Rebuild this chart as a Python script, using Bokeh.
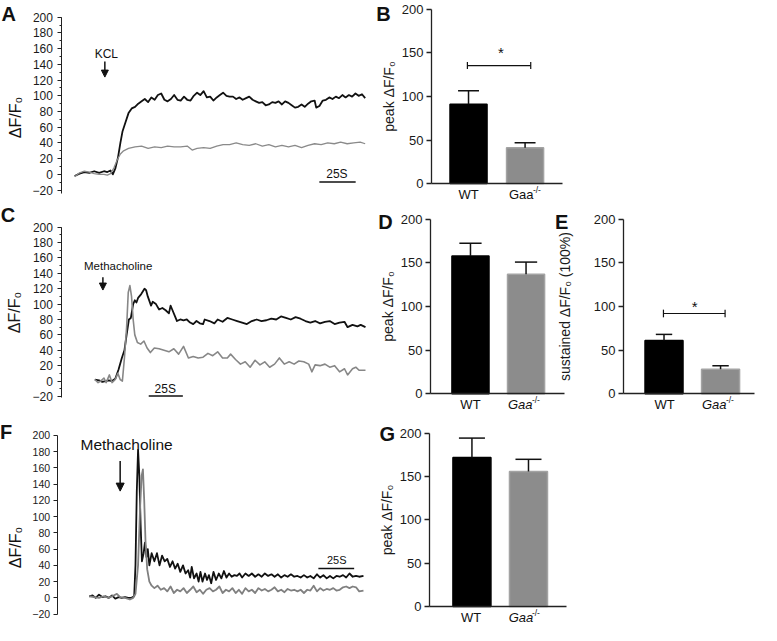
import math
from bokeh.plotting import figure
from bokeh.models import (Range1d, Label, Arrow, NormalHead, LinearAxis,
                          SingleIntervalTicker, FixedTicker)
from bokeh.embed import file_html
from bokeh.resources import INLINE

FONT = "Liberation Sans"
SX, SY = 0.975, 0.968   # reference pixel -> canvas pixel
OX, OY = 1, 4
W, H = 761, 625         # canvas size

# ---------------- data ----------------
# A: KCL response, time (s) and dF/F0
a_t_wt = [0, 3.4, 6.7, 10.1, 13.5, 16.9, 20.2, 22.5, 24.7, 26.3,
          28.1, 29.9, 31.5, 33.0, 34.8, 37.1, 39.3, 41.6, 43.8, 46.1,
          48.3, 50.6, 52.8, 55.1, 57.3, 59.6, 61.8, 64.0, 66.3, 68.5,
          70.8, 73.0, 75.3, 77.5, 79.8, 82.0, 84.3, 86.5, 88.8, 91.0,
          93.3, 95.5, 97.8, 100.0, 102.2, 104.5, 106.7, 109.0, 111.2, 113.5,
          115.7, 118.0, 120.2, 122.5, 124.7, 127.0, 129.2, 131.5, 133.7, 136.0,
          138.2, 140.4, 142.7, 144.9, 147.2, 149.4, 151.7, 153.9, 156.2, 158.4,
          160.7, 162.9, 165.2, 166.3, 168.5, 170.8, 173.0, 175.3, 177.5, 179.8,
          182.0, 184.3, 186.5, 188.8, 191.0, 193.3, 195.5, 197.8, 200.0]
a_wt = [-2, 1, 3, 2, 4, 2, 4, 3, 5, 0,
        8, 22, 40, 55, 65, 78, 84, 86, 90, 93,
        96, 92, 98, 95, 101, 103, 95, 93, 96, 101,
        95, 94, 99, 95, 94, 100, 104, 101, 106, 98,
        99, 94, 98, 101, 104, 100, 99, 99, 96, 98,
        95, 97, 99, 95, 93, 91, 92, 88, 89, 92,
        91, 93, 89, 93, 91, 88, 85, 86, 89, 86,
        90, 93, 94, 85, 87, 94, 95, 98, 96, 99,
        97, 101, 98, 101, 99, 103, 100, 102, 97]
a_t_gaa = [0, 3.4, 6.7, 10.1, 13.5, 16.9, 20.2, 22.5, 24.7,
           27.0, 29.2, 31.5, 33.7,
           37.1, 41.6, 46.1, 50.6, 55.1, 59.6, 64.0, 68.5, 73.0, 77.5,
           80.9, 84.3, 88.8, 93.3, 97.8, 102.2, 106.7, 111.2, 115.7, 120.2,
           124.7, 129.2, 133.7, 138.2, 142.7, 147.2, 151.7, 156.2, 160.7, 165.2,
           169.7, 174.2, 178.7, 183.1, 187.6, 192.1, 196.6, 200.0]
a_gaa = [-3, 2, 4, 3, 1, 0, 0, -1, 1,
         8, 18, 26, 30,
         33, 35, 36, 33, 35, 34, 36, 35, 35, 36,
         31, 33, 34, 33, 36, 38, 38, 40, 38, 37,
         39, 36, 38, 35, 37, 35, 37, 34, 37, 39,
         38, 40, 39, 41, 39, 40, 41, 39]

# C: Methacholine response
c_t_wt = [0, 3.1, 5.5, 7.9, 10.2, 12.6, 15.0, 17.4, 19.8, 21.7,
          23.3, 25.0, 26.4, 28.1, 29.3, 30.5, 31.7, 34.0, 36.4, 37.6,
          38.8, 41.2, 42.4, 44.8, 47.1, 49.5, 51.9, 54.3, 55.5, 56.7,
          59.0, 60.2, 62.6, 65.0, 67.4, 69.8, 72.1, 74.5, 76.9, 79.3,
          80.5, 84.0, 87.6, 90.0, 93.6, 97.1, 100.7, 104.3, 107.9, 111.4,
          115.0, 118.6, 122.1, 125.7, 129.3, 132.9, 136.4, 140.0, 143.6, 147.1,
          150.7, 154.3, 157.9, 161.4, 165.0, 168.6, 172.1, 175.7, 179.3, 182.9,
          185.2, 188.8, 192.4, 194.8, 198.3]
c_wt = [2, 1, -1, 0, 1, 0, 3, 15, 30, 40,
        60, 80, 82, 100, 105, 102, 108, 113, 120, 118,
        110, 98, 103, 100, 93, 95, 92, 88, 98, 93,
        83, 78, 80, 79, 80, 76, 74, 78, 75, 74,
        80, 78, 75, 80, 77, 82, 80, 78, 76, 74,
        78, 80, 78, 79, 81, 80, 84, 82, 80, 83,
        81, 78, 76, 78, 75, 77, 78, 74, 76, 77,
        70, 73, 71, 73, 70]
c_t_gaa = [0, 2.4, 4.3, 6.7, 8.3, 10.7, 12.6, 15.0, 16.9, 18.6,
           20.2, 21.7, 23.3, 24.5, 25.7, 26.9, 28.1, 29.3, 31.2, 33.6,
           36.0, 38.3, 40.7, 43.6, 47.1, 50.7, 54.3, 57.9, 61.4, 65.0,
           68.6, 72.1, 75.7, 79.3, 82.9, 86.4, 90.0, 93.6, 97.1, 99.5,
           103.1, 106.7, 110.2, 113.8, 117.4, 121.0, 124.5, 128.1, 131.7, 135.2,
           138.8, 142.4, 146.0, 149.5, 153.1, 156.7, 159.0, 161.4, 165.0, 168.6,
           172.1, 175.7, 179.3, 182.9, 185.2, 188.8, 191.2, 193.6, 198.3]
c_gaa = [2, -2, 0, 4, -2, 8, -2, 2, 10, 2,
         0, 30, 70, 115, 124, 110, 80, 60, 50, 48,
         52, 43, 37, 43, 42, 40, 38, 42, 35, 45,
         30, 32, 30, 31, 36, 33, 38, 30, 30, 35,
         28, 22, 25, 18, 27, 21, 25, 18, 22, 30,
         22, 25, 22, 26, 25, 22, 12, 21, 20, 22,
         18, 20, 12, 16, 8, 16, 18, 14, 14]

# F: Methacholine response (second recording)
f_t_wt = [0, 2.3, 4.5, 6.8, 9.1, 11.4, 13.6, 15.9, 18.2, 20.5,
          22.7, 25.0, 27.3, 29.5, 31.4, 32.3, 33.2, 34.1, 35.0, 35.9,
          36.8, 38.0, 38.9, 40.0, 40.9, 42.0, 43.6, 45.5, 47.3, 49.1,
          50.9, 52.7, 54.5, 56.4, 58.2, 60.0, 61.8, 63.6, 65.5, 67.3,
          69.1, 70.5, 71.6, 73.2, 75.0, 76.4, 77.7, 79.1, 80.9, 82.3,
          83.6, 85.2, 86.8, 88.6, 90.5, 92.3, 94.1, 95.9, 97.7, 99.5,
          101.4, 103.2, 105.0, 106.8, 109.1, 111.4, 113.6, 115.9, 118.2, 120.5,
          122.7, 125.0, 127.3, 129.5, 131.8, 134.1, 136.4, 138.6, 140.9, 143.2,
          145.5, 147.7, 150.0, 152.3, 154.5, 156.8, 159.1, 161.4, 163.6, 165.9,
          168.2, 170.5, 172.7, 175.0, 177.3, 179.5, 181.8, 184.1, 186.4, 188.6,
          191.6]
f_wt = [2, 3, 0, 4, 1, 2, 0, 3, -1, 1,
        0, 1, 0, 0, 2, 40, 130, 182, 150, 90,
        45, 55, 68, 50, 60, 40, 55, 45, 55, 40,
        52, 45, 48, 38, 45, 36, 42, 32, 40, 30,
        34, 25, 38, 24, 30, 20, 32, 20, 30, 22,
        28, 18, 32, 22, 30, 24, 33, 25, 30, 26,
        28, 27, 30, 25, 30, 27, 30, 26, 29, 26,
        30, 27, 29, 26, 29, 25, 28, 26, 29, 26,
        27, 25, 28, 25, 27, 24, 29, 25, 28, 24,
        27, 24, 27, 26, 28, 25, 30, 26, 27, 26,
        27]
f_t_gaa = [0, 3.4, 6.8, 10.2, 13.6, 17.0, 19.3, 21.6, 25.0, 28.4,
           30.7, 32.3, 34.1, 35.5, 36.6, 37.5, 38.4, 39.3, 40.5, 42.0,
           43.6, 45.5, 47.7, 50.0, 52.3, 54.5, 56.8, 59.1, 61.4, 63.6,
           65.9, 68.2, 70.5, 72.7, 75.0, 77.3, 79.5, 81.8, 84.1, 86.4,
           88.6, 90.9, 93.2, 95.5, 97.7, 100.0, 102.3, 104.5, 106.8, 109.1,
           111.4, 113.6, 115.9, 118.2, 120.5, 122.7, 125.0, 127.3, 129.5, 131.8,
           134.1, 136.4, 138.6, 140.9, 143.2, 145.5, 147.7, 150.0, 152.3, 154.5,
           156.8, 159.1, 161.4, 163.6, 165.9, 168.2, 170.5, 172.7, 175.0, 177.3,
           179.5, 181.8, 184.1, 186.4, 188.6, 191.6]
f_gaa = [2, 1, 0, 2, 0, 3, 5, 1, 0, -2,
         0, 5, 40, 110, 150, 158, 120, 70, 35, 20,
         15, 12, 15, 10, 12, 8, 14, 6, 10, 8,
         12, 6, 10, 14, 7, 10, 5, 10, 12, 8,
         10, 14, 6, 10, 8, 12, 6, 10, 5, 12,
         8, 10, 6, 12, 9, 11, 8, 10, 13, 8,
         10, 7, 11, 9, 10, 8, 10, 6, 10, 9,
         15, 8, 12, 9, 11, 10, 12, 9, 10, 13,
         14, 12, 14, 13, 8, 9]

# bar panels: mean and upper error (SEM)
groups = ["WT", "Gaa"]
b_mean = [91, 41]
b_sem = [15.5, 6]
d_mean = [158, 137]
d_sem = [14.5, 14]
e_mean = [61, 28]
e_sem = [7, 4]
g_mean = [172, 156]
g_sem = [22.5, 14]

trace_ticks_step = 20
bar_ticks = [0, 50, 100, 150, 200]

BLACK = "#111111"
BAR_FILL = ["#000000", "#8c8c8c"]
BAR_LINE = ["#000000", "#a3a3a3"]

# ---------------- one canvas, one coordinate system per panel ----------------
p = figure(width=W, height=H, x_range=Range1d(0, W), y_range=Range1d(H, 0),
           x_axis_type=None, y_axis_type=None,
           min_border_left=0, min_border_right=0, min_border_top=0, min_border_bottom=0,
           output_backend="svg", toolbar_location=None, tools="")
p.outline_line_color = None
p.background_fill_color = "white"
p.border_fill_color = "white"

xr_extra, yr_extra, panels = {}, {}, {}


def cx(rx):
    return OX + SX * rx


def cy(ry):
    return OY + SY * ry


def lin(p0, v0, p1, v1):
    k = (v1 - v0) / (p1 - p0)
    return lambda q: v0 + (q - p0) * k


def panel(name, xa, ya):
    """xa/ya: (reference pixel, value, reference pixel, value) calibration."""
    fx = lin(cx(xa[0]), xa[1], cx(xa[2]), xa[3])
    fy = lin(cy(ya[0]), ya[1], cy(ya[2]), ya[3])
    xr_extra[name] = Range1d(fx(0), fx(W))
    yr_extra[name] = Range1d(fy(H), fy(0))
    panels[name] = (fx, fy)


panel("A", (75, 0, 373, 200), (175.5, 0, 13.2, 200))
panel("B", (479, 1, 537, 2), (185, 0, 5, 200))
panel("C", (95.7, 0, 130.7, 25), (389, 0, 230, 200))
panel("D", (481, 1, 538, 2), (402, 0, 222, 200))
panel("E", (679.5, 1, 737.5, 2), (402, 0, 222, 200))
panel("F", (90, 0, 126.7, 25), (613, 0, 445, 200))
panel("G", (482.5, 1, 540.5, 2), (622, 0, 443, 200))
p.extra_x_ranges = xr_extra
p.extra_y_ranges = yr_extra


def at(n, rx, ry):
    fx, fy = panels[n]
    return fx(cx(rx)), fy(cy(ry))


def rn(n):
    return dict(x_range_name=n, y_range_name=n)


def text(n, rx, ry, s, size, style="normal", align="center",
         baseline="middle", angle=0.0, color=BLACK):
    x, y = at(n, rx, ry)
    p.add_layout(Label(x=x, y=y, text=s, text_font=FONT,
                       text_font_size=f"{size}px", text_font_style=style,
                       text_align=align, text_baseline=baseline,
                       angle=angle, text_color=color, **rn(n)))


def arrow(n, rx, ry0, ry1, size):
    x, y0 = at(n, rx, ry0)
    _, y1 = at(n, rx, ry1)
    p.add_layout(Arrow(end=NormalHead(size=size, fill_color=BLACK, line_color=BLACK),
                       x_start=x, y_start=y0, x_end=x, y_end=y1,
                       line_color=BLACK, line_width=1.5, **rn(n)))


def scale_bar(n, rx, ry):
    x, y = at(n, rx, ry)
    p.segment(x0=[x], y0=[y], x1=[x + 25], y1=[y], line_color=BLACK,
              line_width=1.5, **rn(n))


def trace_axis(n, axis_rx, lo, label_size, tick_out, standoff, minor=True,
               title=None, title_standoff=6):
    x_loc, _ = at(n, axis_rx, 0)
    ax = LinearAxis(fixed_location=x_loc, bounds=(lo, 200), **rn(n))
    ax.ticker = SingleIntervalTicker(interval=trace_ticks_step,
                                     num_minor_ticks=2 if minor else 0)
    ax.axis_line_color = "#222222"
    ax.axis_line_width = 1
    ax.major_tick_line_color = "#222222"
    ax.major_tick_out = tick_out
    ax.major_tick_in = 0
    ax.minor_tick_line_color = "#222222"
    ax.minor_tick_out = 2 if minor else 0
    ax.minor_tick_in = 0
    ax.major_label_text_font = FONT
    ax.major_label_text_font_size = f"{label_size}px"
    ax.major_label_text_color = "#1a1a1a"
    ax.major_label_standoff = standoff
    if title:
        ax.axis_label = title
        ax.axis_label_text_font = FONT
        ax.axis_label_text_font_size = "16px"
        ax.axis_label_text_font_style = "normal"
        ax.axis_label_text_color = "#1a1a1a"
        ax.axis_label_standoff = title_standoff
    p.add_layout(ax, "left")


def bar_axes(n, axis_rx, end_rx, ylabel, lab_standoff):
    x_loc, _ = at(n, axis_rx, 0)
    x_end, _ = at(n, end_rx, 0)
    ya = LinearAxis(fixed_location=x_loc, bounds=(0, 200), **rn(n))
    ya.ticker = FixedTicker(ticks=bar_ticks)
    ya.axis_line_color = "#222222"
    ya.axis_line_width = 1.3
    ya.major_tick_line_color = "#222222"
    ya.major_tick_line_width = 1.3
    ya.major_tick_out = 5
    ya.major_tick_in = 0
    ya.minor_tick_out = 0
    ya.major_label_text_font = FONT
    ya.major_label_text_font_size = "13px"
    ya.major_label_text_color = "#1a1a1a"
    ya.major_label_standoff = 3
    ya.axis_label = ylabel
    ya.axis_label_text_font = FONT
    ya.axis_label_text_font_size = "14px"
    ya.axis_label_text_font_style = "normal"
    ya.axis_label_text_color = "#1a1a1a"
    ya.axis_label_standoff = lab_standoff
    p.add_layout(ya, "left")
    xa = LinearAxis(fixed_location=0, bounds=(x_loc, x_end), **rn(n))
    xa.ticker = FixedTicker(ticks=[1, 2])
    xa.major_label_overrides = {1: "", 2: ""}
    xa.axis_line_color = "#222222"
    xa.axis_line_width = 1.3
    xa.major_tick_out = 0
    xa.major_tick_in = 0
    p.add_layout(xa, "below")


def bars(n, means, sems, width, cap):
    xs = [1, 2]
    p.vbar(x=xs, top=means, bottom=0, width=width, fill_color=BAR_FILL,
           line_color=BAR_LINE, line_width=1.5, **rn(n))
    tops = [m + s for m, s in zip(means, sems)]
    p.segment(x0=xs, y0=means, x1=xs, y1=tops, line_color=BLACK,
              line_width=1.5, **rn(n))
    p.segment(x0=[x - cap / 2 for x in xs], y0=tops,
              x1=[x + cap / 2 for x in xs], y1=tops,
              line_color=BLACK, line_width=1.5, **rn(n))


def sig(n, y, x0, x1, h):
    p.segment(x0=[x0, x0, x1], y0=[y, y - h, y - h], x1=[x1, x0, x1],
              y1=[y, y + h, y + h], line_color=BLACK, line_width=1.2, **rn(n))


def group_labels(n, wt_x, gaa_x, sup_x, y, italic):
    text(n, wt_x, y, groups[0], 13)
    text(n, gaa_x, y, groups[1], 13, style="italic" if italic else "normal")
    text(n, sup_x, y - 4.5, "-/-", 8.5, align="left")


# ---------------- A ----------------
trace_axis("A", 62, -24, 12, 4, 5)
p.line(a_t_wt, a_wt, line_color=BLACK, line_width=1.8, line_join="round", **rn("A"))
p.line(a_t_gaa, a_gaa, line_color="#8a8a8a", line_width=1.3, line_join="round", **rn("A"))
text("A", 14, 116.7, "ΔF/F₀", 16, angle=math.pi / 2)
text("A", 107.5, 50.8, "KCL", 12)
arrow("A", 106, 59, 75, 7)
scale_bar("A", 326, 183.3)
text("A", 344, 175, "25S", 12)
text("A", 7.5, 10, "A", 20, style="bold")

# ---------------- B ----------------
bar_axes("B", 441, 575, "peak ΔF/F₀", 2)
bars("B", b_mean, b_sem, 0.655, 0.37)
sig("B", 135.5, 0.98, 2.1, 4)
text("B", 512.3, 50, "*", 15)
group_labels("B", 479, 533, 545, 196.5, False)
text("B", 391.7, 9.6, "B", 20, style="bold")

# ---------------- C ----------------
trace_axis("C", 62, -22, 12, 4, 5, title="ΔF/F₀", title_standoff=6)
p.line(c_t_wt, c_wt, line_color=BLACK, line_width=1.8, line_join="round", **rn("C"))
p.line(c_t_gaa, c_gaa, line_color="#878787", line_width=1.6, line_join="round", **rn("C"))
text("C", 119.7, 270.3, "Methacholine", 11.5)
arrow("C", 104, 281.7, 295, 7)
scale_bar("C", 151, 404.5)
text("C", 168, 396.7, "25S", 12)
text("C", 6.7, 217, "C", 20, style="bold")

# ---------------- D ----------------
bar_axes("D", 440, 577, "peak ΔF/F₀", 2)
bars("D", d_mean, d_sem, 0.667, 0.4)
group_labels("D", 481, 532, 544, 413, True)
text("D", 393.7, 224.8, "D", 20, style="bold")

# ---------------- E ----------------
bar_axes("E", 638, 772, "sustained ΔF/F₀ (100%)", 18)
bars("E", e_mean, e_sem, 0.672, 0.29)
sig("E", 92, 0.99, 2.08, 4.4)
text("E", 711, 311.5, "*", 15)
group_labels("E", 680, 731, 743, 413, True)
text("E", 574.5, 224.8, "E", 20, style="bold")

# ---------------- F ----------------
trace_axis("F", 57, -20, 10.5, 4, 3, minor=False)
p.line(f_t_wt, f_wt, line_color=BLACK, line_width=1.8, line_join="round", **rn("F"))
p.line(f_t_gaa, f_gaa, line_color="#808080", line_width=1.8, line_join="round", **rn("F"))
text("F", 14, 561, "ΔF/F₀", 16, angle=math.pi / 2)
text("F", 128.3, 455, "Methacholine", 15.5)
arrow("F", 121.7, 471.7, 502.7, 8)
scale_bar("F", 325, 582.7)
text("F", 343.8, 574.3, "25S", 11)
text("F", 4.7, 442, "F", 20, style="bold")

# ---------------- G ----------------
bar_axes("G", 439, 579, "peak ΔF/F₀", 2)
bars("G", g_mean, g_sem, 0.672, 0.46)
group_labels("G", 481.7, 532.8, 544, 633, True)
text("G", 395.7, 443.8, "G", 20, style="bold")

open("out.html", "w").write(file_html(p, INLINE))
